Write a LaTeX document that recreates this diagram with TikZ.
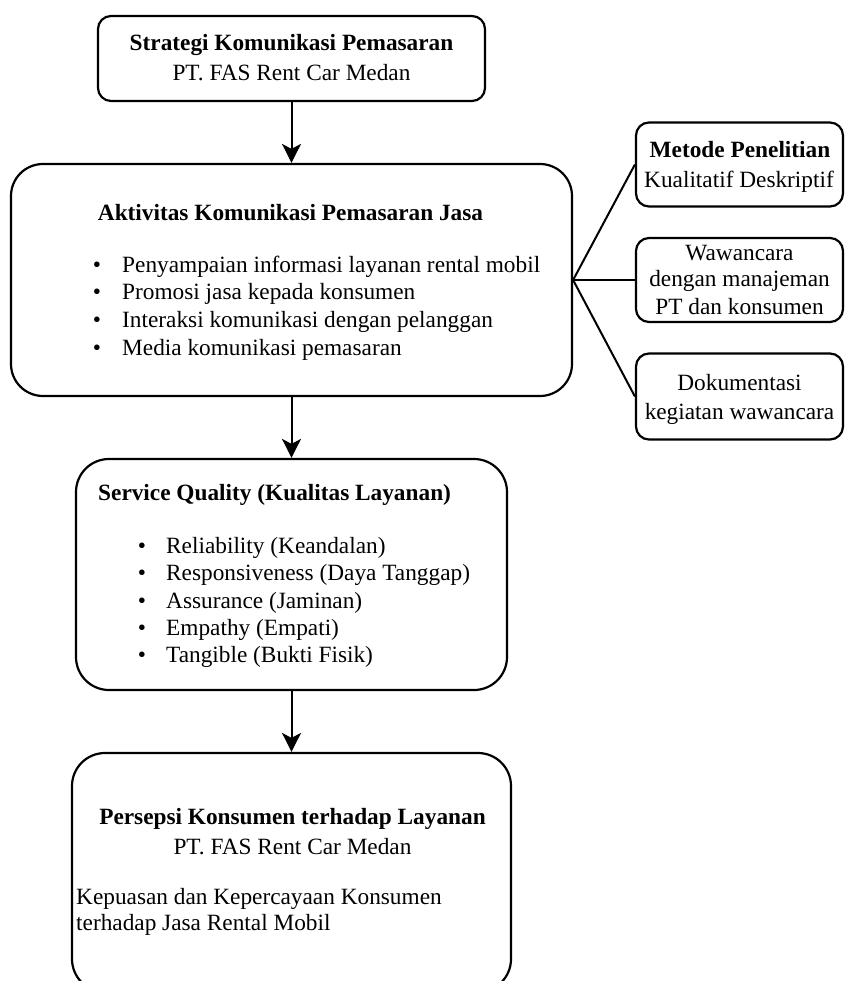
\documentclass[tikz,border=0pt]{standalone}
\usepackage{fontspec}
\setmainfont{Liberation Serif}
\usetikzlibrary{arrows.meta}
\tikzset{
  box/.style={draw=black, line width=2.2pt, rectangle, inner sep=0pt},
  txt/.style={anchor=base, inner sep=0pt, font=\fontsize{23.3}{28}\selectfont},
  txtb/.style={anchor=base, inner sep=0pt, font=\fontsize{23.3}{28}\selectfont\bfseries},
  txtl/.style={txt, anchor=base west},
  bul/.style={txt},
  arr/.style={line width=2pt, -{Stealth[length=19pt, width=19pt, inset=5pt]}},
  link/.style={line width=2pt}
}
\begin{document}
\begin{tikzpicture}[x=1pt,y=-1pt]
\useasboundingbox (0,0) rectangle (845,981);
\fill[white] (0,0) rectangle (845,981);

% boxes
\node[box, rounded corners=13pt, minimum width=387pt, minimum height=85pt] (b1) at (291.5,58.5) {};
\node[box, rounded corners=32pt, minimum width=561pt, minimum height=232pt] (b2) at (291.5,280) {};
\node[box, rounded corners=13pt, minimum width=207pt, minimum height=84pt] (b3) at (739.5,164.5) {};
\node[box, rounded corners=13pt, minimum width=207pt, minimum height=84pt] (b4) at (739.5,280) {};
\node[box, rounded corners=13pt, minimum width=207pt, minimum height=86pt] (b5) at (739.5,396.5) {};
\node[box, rounded corners=33pt, minimum width=431pt, minimum height=231pt] (b6) at (291.5,574.5) {};
\node[box, rounded corners=33pt, minimum width=439pt, minimum height=239pt] (b7) at (291.5,872.5) {};

% box 1 text
\node[txtb] (t1a) at (291.5,50.5) {Strategi Komunikasi Pemasaran};
\node[txt] (t1b) at (291.5,80.5) {PT. FAS Rent Car Medan};

% box 2 text
\node[txtb] (t2a) at (290.5,220.5) {Aktivitas Komunikasi Pemasaran Jasa};
\node[bul] (u2a) at (97,272.5) {•};
\node[bul] (u2b) at (97,299.5) {•};
\node[bul] (u2c) at (97,327.5) {•};
\node[bul] (u2d) at (97,355.5) {•};
\node[txtl] (t2b) at (122,272.5) {Penyampaian informasi layanan rental mobil};
\node[txtl] (t2c) at (122,299.5) {Promosi jasa kepada konsumen};
\node[txtl] (t2d) at (122,327.5) {Interaksi komunikasi dengan pelanggan};
\node[txtl] (t2e) at (122,355.5) {Media komunikasi pemasaran};

% right boxes text
\node[txtb] (t3a) at (740,157.5) {Metode Penelitian};
\node[txt] (t3b) at (739,187.5) {Kualitatif Deskriptif};
\node[txt] (t4a) at (739.5,260.5) {Wawancara};
\node[txt] (t4b) at (739.5,286.5) {dengan manajeman};
\node[txt] (t4c) at (739.5,314.5) {PT dan konsumen};
\node[txt] (t5a) at (739.5,390.5) {Dokumentasi};
\node[txt] (t5b) at (739.5,419.5) {kegiatan wawancara};

% box 6 text
\node[txtb, anchor=base west] (t6a) at (98,500.5) {Service Quality (Kualitas Layanan)};
\node[bul] (u6a) at (142,553.5) {•};
\node[bul] (u6b) at (142,580.5) {•};
\node[bul] (u6c) at (142,608.5) {•};
\node[bul] (u6d) at (142,635.5) {•};
\node[bul] (u6e) at (142,662.5) {•};
\node[txtl] (t6b) at (166,553.5) {Reliability (Keandalan)};
\node[txtl] (t6c) at (166,580.5) {Responsiveness (Daya Tanggap)};
\node[txtl] (t6d) at (166,608.5) {Assurance (Jaminan)};
\node[txtl] (t6e) at (166,635.5) {Empathy (Empati)};
\node[txtl] (t6f) at (166,662.5) {Tangible (Bukti Fisik)};

% box 7 text
\node[txtb] (t7a) at (292.5,824.5) {Persepsi Konsumen terhadap Layanan};
\node[txt] (t7b) at (292.5,854.5) {PT. FAS Rent Car Medan};
\node[txtl] (t7c) at (76,904.5) {Kepuasan dan Kepercayaan Konsumen};
\node[txtl] (t7d) at (76,930.5) {terhadap Jasa Rental Mobil};

% connectors
\draw[arr] (b1.south) -- (b2.north);
\draw[arr] (b2.south) -- (b6.north);
\draw[arr] (b6.south) -- (b7.north);
\draw[link] (b2.east) -- (b3.west);
\draw[link] (b2.east) -- (b4.west);
\draw[link] (b2.east) -- (b5.west);
\end{tikzpicture}
\end{document}
